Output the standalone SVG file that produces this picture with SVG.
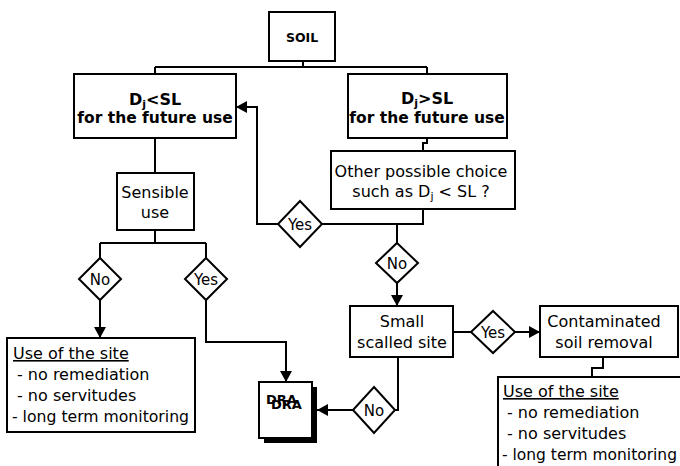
<svg xmlns="http://www.w3.org/2000/svg" width="680" height="466" viewBox="0 0 680 466">
<defs>
<marker id="ah" markerUnits="userSpaceOnUse" markerWidth="12" markerHeight="12" refX="11" refY="6" orient="auto">
<path d="M0,0 L11,6 L0,12 Z" fill="#000"/>
</marker>
<style>
.box{fill:#fff;stroke:#000;stroke-width:2}
.dia{fill:#fff;stroke:#000;stroke-width:2}
.ln{fill:none;stroke:#000;stroke-width:2}
.ar{fill:none;stroke:#000;stroke-width:2;marker-end:url(#ah)}
text{font-family:"DejaVu Sans","Liberation Sans",sans-serif;font-size:16px;fill:#000}
.c{text-anchor:middle}
.b{font-weight:bold}
.d{font-size:15px;text-anchor:middle}
.u{text-decoration:underline}
</style>
</defs>
<rect width="680" height="466" fill="#fff"/>
<g id="connectors">
<path class="ln" d="M303,61 V67 M155,67 H427 M155,67 V74 M427,67 V74"/>
<path class="ln" d="M155,138 V173"/>
<path class="ln" d="M155,230 V243 M100,243 H206 M100,243 V258 M206,243 V258"/>
<path class="ar" d="M100,300 V338"/>
<path class="ar" d="M206,300 V342 H286 V382"/>
<path class="ln" d="M427,138 V143 H423 V151"/>
<path class="ln" d="M423,209 V224 H322"/>
<path class="ar" d="M278,224 H257 V107 H236"/>
<path class="ln" d="M397,224 V243"/>
<path class="ar" d="M397,283 V306"/>
<path class="ln" d="M453,332 H472"/>
<path class="ar" d="M515,332 H540"/>
<path class="ln" d="M603,357 V368 H592 V377"/>
<path class="ln" d="M398,357 V410 H395"/>
<path class="ar" d="M353,410 H317"/>
</g>
<g id="soil">
<rect class="box" x="269" y="12" width="66" height="49"/>
<text class="c b" x="302" y="42" style="font-size:12.5px">SOIL</text>
</g>
<g id="lt-sl">
<rect class="box" x="74" y="74" width="162" height="64"/>
<text class="c b" x="155" y="105">D<tspan font-size="11" dy="3">j</tspan><tspan dy="-3">&lt;SL</tspan></text>
<text class="c b" x="155" y="123" style="font-size:15.5px">for the future use</text>
</g>
<g id="gt-sl">
<rect class="box" x="348" y="74" width="159" height="64"/>
<text class="c b" x="427" y="104">D<tspan font-size="11" dy="3">j</tspan><tspan dy="-3">&gt;SL</tspan></text>
<text class="c b" x="427" y="123" style="font-size:15.5px">for the future use</text>
</g>
<g id="other-choice">
<rect class="box" x="331" y="151" width="184" height="58"/>
<text class="c" x="421" y="177">Other possible choice</text>
<text class="c" x="421" y="197">such as D<tspan font-size="11" dy="3">j</tspan><tspan dy="-3"> &lt; SL ?</tspan></text>
</g>
<g id="sensible-use">
<rect class="box" x="117" y="173" width="77" height="57"/>
<text class="c" x="155" y="198">Sensible</text>
<text class="c" x="155" y="218">use</text>
</g>
<g id="yes-back">
<polygon class="dia" points="300,201 322,224 300,247 278,224"/>
<text class="d" x="300" y="230">Yes</text>
</g>
<g id="no-center">
<polygon class="dia" points="397,243 418,263 397,283 376,263"/>
<text class="d" x="397" y="269">No</text>
</g>
<g id="no-left">
<polygon class="dia" points="100,258 121,279 100,300 79,279"/>
<text class="d" x="100" y="285">No</text>
</g>
<g id="yes-left">
<polygon class="dia" points="206,258 227,279 206,300 185,279"/>
<text class="d" x="206" y="285">Yes</text>
</g>
<g id="use-left">
<rect class="box" x="7" y="338" width="188" height="94"/>
<text class="u" x="13" y="359">Use of the site</text>
<text x="17" y="380">- no remediation</text>
<text x="17" y="401">- no servitudes</text>
<text x="12" y="422" textLength="177" lengthAdjust="spacingAndGlyphs">- long term monitoring</text>
</g>
<g id="dra">
<rect x="264" y="387" width="53" height="56" fill="#000"/>
<rect class="box" x="259" y="382" width="53" height="56"/>
<text class="b" x="266" y="404" style="font-size:13px">DRA</text>
<text class="b" x="271" y="409" style="font-size:13px">DRA</text>
</g>
<g id="small-site">
<rect class="box" x="350" y="306" width="103" height="51"/>
<text class="c" x="402" y="327">Small</text>
<text class="c" x="402" y="348">scalled site</text>
</g>
<g id="yes-right">
<polygon class="dia" points="493,311 515,332 493,353 471,332"/>
<text class="d" x="493" y="338">Yes</text>
</g>
<g id="soil-removal">
<rect class="box" x="540" y="306" width="138" height="51"/>
<text class="c" x="604" y="327">Contaminated</text>
<text class="c" x="604" y="348">soil removal</text>
</g>
<g id="no-bottom">
<polygon class="dia" points="374,387 395,410 374,433 353,410"/>
<text class="d" x="374" y="416">No</text>
</g>
<g id="use-right">
<rect class="box" x="498" y="377" width="200" height="110"/>
<text class="u" x="503" y="397">Use of the site</text>
<text x="507" y="418">- no remediation</text>
<text x="507" y="439">- no servitudes</text>
<text x="502" y="460" textLength="175" lengthAdjust="spacingAndGlyphs">- long term monitoring</text>
</g>
</svg>
